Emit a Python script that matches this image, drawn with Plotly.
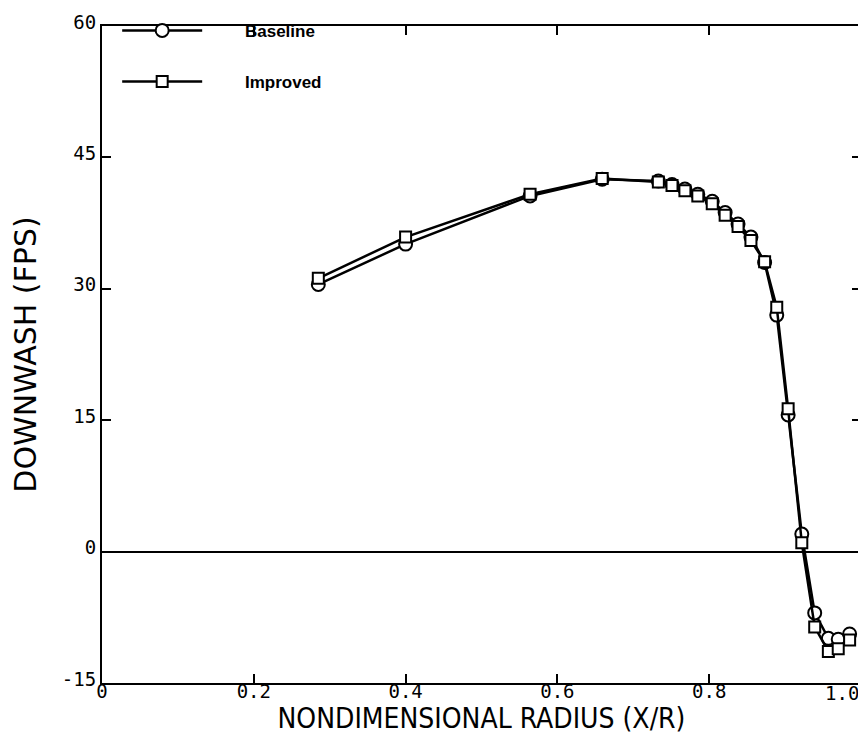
import plotly.graph_objects as go

# Nondimensional radius stations (X/R)
radius = [0.285, 0.400, 0.564, 0.659, 0.733, 0.751, 0.768, 0.785, 0.804, 0.821,
          0.838, 0.855, 0.873, 0.889, 0.904, 0.922, 0.939, 0.957, 0.970, 0.985]

# Downwash (FPS)
baseline = [30.5, 35.1, 40.6, 42.5, 42.3, 41.9, 41.4, 40.8, 40.0, 38.7,
            37.4, 35.9, 33.0, 27.0, 15.6, 2.0, -7.0, -9.9, -10.0, -9.4]
improved = [31.2, 35.9, 40.8, 42.6, 42.2, 41.8, 41.2, 40.6, 39.7, 38.4,
            37.1, 35.5, 33.1, 27.9, 16.3, 1.0, -8.6, -11.4, -11.1, -10.1]

x_ticks = [0, 0.2, 0.4, 0.6, 0.8, 1.0]
x_tick_text = ["0", "0.2", "0.4", "0.6", "0.8", "1.0"]
y_ticks = [-15, 0, 15, 30, 45, 60]
y_tick_text = ["-15", "0", "15", "30", "45", "60"]

TICK_FONT = dict(family="DejaVu Sans Mono", size=19, color="black")
PAD = "\u00a0" * 8  # gap between legend symbol and label

fig = go.Figure()

fig.add_trace(go.Scatter(
    x=radius, y=baseline, name=PAD + "Baseline", legendgroup="b",
    mode="lines+markers",
    line=dict(color="black", width=2.5),
    marker=dict(symbol="circle", size=13, color="white",
                line=dict(color="black", width=2)),
))
fig.add_trace(go.Scatter(
    x=radius, y=improved, name=PAD + "Improved", legendgroup="i",
    mode="lines+markers",
    line=dict(color="black", width=2.5),
    marker=dict(symbol="square", size=11, color="white",
                line=dict(color="black", width=2)),
))

# last x label sits flush against the right border, like the original plot
fig.add_annotation(x=x_ticks[-1], xref="x", y=0, yref="paper",
                   text=x_tick_text[-1], showarrow=False,
                   xanchor="right", yanchor="top", yshift=3,
                   font=TICK_FONT)

axis_common = dict(
    showline=True, linecolor="black", linewidth=2, mirror="ticks",
    ticks="inside", ticklen=9, tickwidth=2, tickcolor="black",
    showgrid=False, tickfont=TICK_FONT, ticklabeloverflow="allow",
    automargin=False,
)

fig.update_layout(
    width=858, height=734,
    paper_bgcolor="white", plot_bgcolor="white",
    margin=dict(l=94, r=5, t=14, b=59),
    xaxis=dict(range=[0, 1.0], tickvals=x_ticks,
               ticktext=x_tick_text[:-1] + [""],
               title=dict(text="NONDIMENSIONAL RADIUS (X/R)", standoff=0,
                          font=dict(family="DejaVu Sans Condensed", size=28,
                                    color="black")),
               zeroline=False, ticklabelstandoff=-10, **axis_common),
    yaxis=dict(range=[-15, 60], tickvals=y_ticks, ticktext=y_tick_text,
               title=dict(text="DOWNWASH (FPS)", standoff=26,
                          font=dict(family="DejaVu Sans", size=30,
                                    color="black")),
               zeroline=True, zerolinecolor="black", zerolinewidth=2,
               ticklabelshift=-4, ticklabelstandoff=0, **axis_common),
    legend=dict(x=0.02, y=1.02, xanchor="left", yanchor="top",
                bgcolor="rgba(0,0,0,0)", itemwidth=80, tracegroupgap=26,
                font=dict(family="Liberation Sans", size=17, color="black",
                          weight="bold")),
    showlegend=True,
)

fig.write_html("out.html")
